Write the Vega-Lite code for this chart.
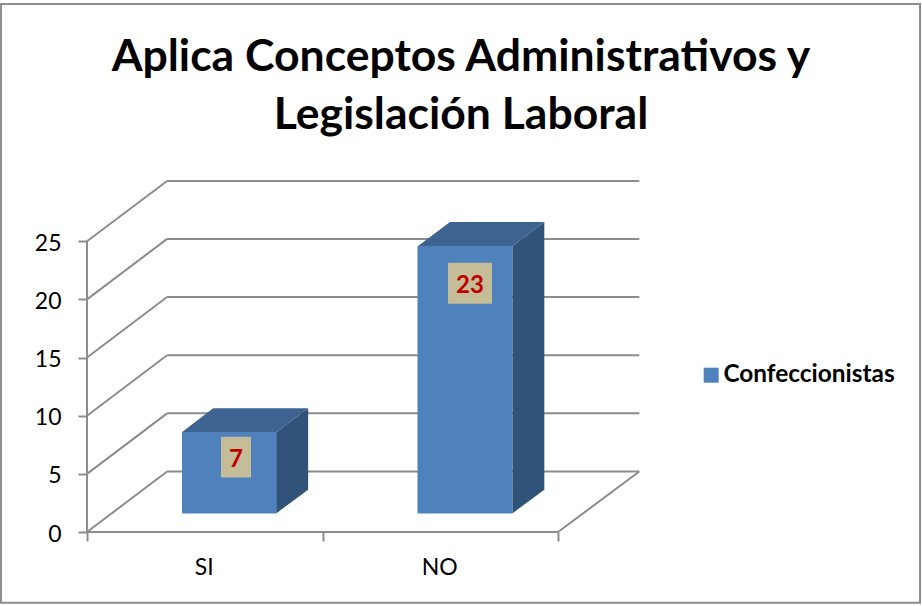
{
"$schema":"https://vega.github.io/schema/vega-lite/v6.json",
"width":553,"height":351,"autosize":"none",
"padding":{"left":87,"top":181,"right":282,"bottom":74},
"background":"white",
"config":{"view":{"stroke":null}},
"resolve":{"axis":{"x":"independent","y":"independent"}},
"title":{"text":["Aplica Conceptos Administrativos y","Legislación Laboral"],"font":"Lato","fontSize":44.5,"fontWeight":"bold","color":"#000000","anchor":"middle","frame":"group","dx":97.5,"offset":-136,"lineHeight":58},
"datasets":{
"barras":[{"categoria":"SI","valor":7,"pos":0.5},{"categoria":"NO","valor":23,"pos":1.5}],
"marco":[{"x0":-0.365,"x1":3.537,"y0":-6.08,"y1":45.4}],
"rejilla":[
{"x1":0,"y1":0,"x2":2,"y2":0},{"x1":0,"y1":0,"x2":0,"y2":25},{"x1":2,"y1":0,"x2":2.345,"y2":5.2},
{"x1":0,"y1":0,"x2":0.34,"y2":5.2},{"x1":0,"y1":5,"x2":0.34,"y2":10.2},{"x1":0,"y1":10,"x2":0.34,"y2":15.2},{"x1":0,"y1":15,"x2":0.34,"y2":20.2},{"x1":0,"y1":20,"x2":0.34,"y2":25.2},{"x1":0,"y1":25,"x2":0.34,"y2":30.18},
{"x1":0.34,"y1":5.2,"x2":2.345,"y2":5.2},{"x1":0.34,"y1":10.2,"x2":2.345,"y2":10.2},{"x1":0.34,"y1":15.2,"x2":2.345,"y2":15.2},{"x1":0.34,"y1":20.2,"x2":2.345,"y2":20.2},{"x1":0.34,"y1":25.2,"x2":2.345,"y2":25.2},{"x1":0.34,"y1":30.18,"x2":2.345,"y2":30.18}
],
"lados":[
{"categoria":"SI","x":0.803,"y0":8.56,"y1":1.6},{"categoria":"SI","x":0.9389,"y0":10.63,"y1":3.64},
{"categoria":"NO","x":1.8059,"y0":24.56,"y1":1.6},{"categoria":"NO","x":1.9418,"y0":26.66,"y1":3.64}
],
"tapas":[
{"categoria":"SI","y":8.56,"x0":0.4013,"x1":0.803},{"categoria":"SI","y":10.63,"x0":0.5359,"x1":0.9389},
{"categoria":"NO","y":24.56,"x0":1.4042,"x1":1.8059},{"categoria":"NO","y":26.66,"x0":1.5414,"x1":1.9418}
],
"etiquetas":[
{"valor":7,"x0":0.569,"x1":0.6964,"y0":4.69,"y1":8.19,"xc":0.6327,"yc":6.2},
{"valor":23,"x0":1.5329,"x1":1.7197,"y0":19.63,"y1":23.16,"xc":1.6263,"yc":21.17}
]
},
"layer":[
{"data":{"name":"rejilla"},"mark":{"type":"rule","stroke":"#8c8c8c","strokeWidth":2},
"encoding":{
"x":{"field":"x1","type":"quantitative","scale":{"domain":[0,2.348],"padding":0,"nice":false,"zero":false},"title":null,"axis":{"values":[0,0.5,1,1.5,2],"labelExpr":"datum.value==0.5?'SI':datum.value==1.5?'NO':''","domain":false,"grid":false,"tickSize":9,"tickWidth":2,"tickColor":"#8c8c8c","tickOpacity":{"condition":{"test":"datum.value%1==0","value":1},"value":0},"labelFont":"Lato","labelFontSize":23,"labelColor":"#000000","labelPadding":15,"labelAngle":0,"labelFlush":false,"labelOverlap":false,"labelOffset":-1}},
"x2":{"field":"x2"},
"y":{"field":"y1","type":"quantitative","scale":{"domain":[0,30.18],"padding":0,"nice":false,"zero":false},"title":null,"axis":{"values":[0,5,10,15,20,25],"domain":false,"grid":false,"tickSize":9,"tickWidth":2,"tickColor":"#8c8c8c","labelFont":"Lato","labelFontSize":23,"labelColor":"#000000","labelPadding":17,"labelOffset":2}},
"y2":{"field":"y2"}}},
{"data":{"name":"marco"},"mark":{"type":"rect","fill":null,"fillOpacity":0,"stroke":"#8c8c8c","strokeWidth":2},
"encoding":{"x":{"field":"x0","type":"quantitative","axis":null},"x2":{"field":"x1"},"y":{"field":"y0","type":"quantitative","axis":null},"y2":{"field":"y1"}}},
{"data":{"name":"lados"},"mark":{"type":"area","fill":"#325379","orient":"vertical"},
"encoding":{"detail":{"field":"categoria"},"x":{"field":"x","type":"quantitative","axis":null},"y":{"field":"y0","type":"quantitative","axis":null},"y2":{"field":"y1"}}},
{"data":{"name":"tapas"},"mark":{"type":"area","fill":"#3D6391","orient":"horizontal"},
"encoding":{"detail":{"field":"categoria"},"y":{"field":"y","type":"quantitative","axis":null},"x":{"field":"x0","type":"quantitative","axis":null},"x2":{"field":"x1"}}},
{"data":{"name":"barras"},"mark":{"type":"bar","orient":"vertical","size":94.6,"xOffset":24.5,"yOffset":-18.6,"y2Offset":-18.6},
"encoding":{"x":{"field":"pos","type":"quantitative","axis":null},"y":{"field":"valor","type":"quantitative","axis":null},"y2":{"datum":0},
"color":{"datum":"Confeccionistas","type":"nominal","scale":{"domain":["Confeccionistas"],"range":["#4F81BD"]},"legend":{"title":null,"orient":"none","legendX":612,"legendY":182,"symbolType":"square","symbolSize":225,"symbolStrokeWidth":0,"labelFont":"Lato","labelFontSize":24.4,"labelFontWeight":"bold","labelColor":"#000000","labelLimit":300,"labelOffset":0}}}},
{"data":{"name":"etiquetas"},"mark":{"type":"rect","fill":"#C4BD97"},
"encoding":{"x":{"field":"x0","type":"quantitative","axis":null},"x2":{"field":"x1"},"y":{"field":"y0","type":"quantitative","axis":null},"y2":{"field":"y1"}}},
{"data":{"name":"etiquetas"},"mark":{"type":"text","font":"Lato","fontSize":24,"fontWeight":"bold","color":"#C00000","align":"center","baseline":"middle"},
"encoding":{"x":{"field":"xc","type":"quantitative","axis":null},"y":{"field":"yc","type":"quantitative","axis":null},"text":{"field":"valor","type":"quantitative"}}}
]
}
